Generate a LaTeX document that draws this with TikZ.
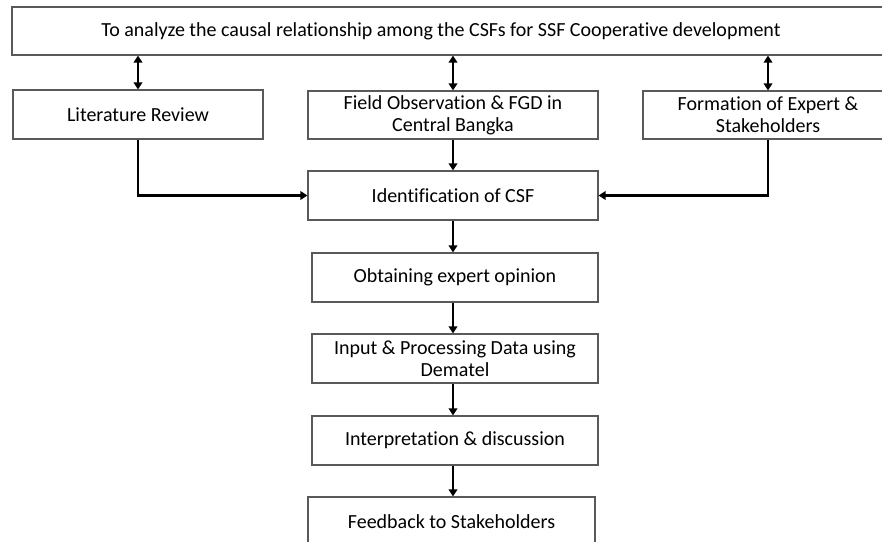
\documentclass[tikz,border=0pt]{standalone}
\usepackage{fontspec}
\setmainfont{Carlito}[Ligatures={NoCommon}]
\usetikzlibrary{arrows.meta}
\begin{document}
\begin{tikzpicture}[x=1pt,y=-1pt,
  txt/.style={font=\fontsize{20}{22}\selectfont},
  box/.style={draw=black!65, line width=1.1pt, fill=white, align=center,
    txt, inner sep=0pt},
  tip/.style={Triangle[width=8.5pt,length=7pt]},
  flow/.style={line width=2.2pt, -{Triangle[width=8.5pt,length=7pt]}},
  both/.style={line width=2.2pt, {Triangle[width=8.5pt,length=7pt]}-{Triangle[width=8.5pt,length=7pt]}}]
\useasboundingbox (0,0) rectangle (882,541);
% goal box, running off the right edge
\node[box, minimum width=880, minimum height=48] (goal) at (452,31) {};
\node[txt, inner sep=0pt] (goaltext) at (441,31)
  {To analyze the causal relationship among the CSFs for SSF Cooperative development};
% input sources
\node[box, minimum width=250, minimum height=49] (lit) at (138,114.5) {Literature Review};
\node[box, minimum width=290, minimum height=48] (field) at (453,115) {Field Observation \& FGD in\\Central Bangka};
\node[box, minimum width=250, minimum height=48] (form) at (768,115) {Formation of Expert \&\\Stakeholders};
% main sequence
\node[box, minimum width=290, minimum height=49] (ident) at (453,195.5) {Identification of CSF};
\node[box, minimum width=286, minimum height=49] (obtain) at (455,277.5) {Obtaining expert opinion};
\node[box, minimum width=286, minimum height=49] (input) at (455,358.5) {Input \& Processing Data using\\Dematel};
\node[box, minimum width=286, minimum height=49] (interp) at (455,440.5) {Interpretation \& discussion};
\node[box, minimum width=287, minimum height=49] (feed) at (451.5,521.5) {Feedback to Stakeholders};
% links to the goal
\draw[both] (goal.south -| lit) -- (lit.north);
\draw[both] (goal.south -| field) -- (field.north);
\draw[both] (goal.south -| form) -- (form.north);
% into identification
\draw[flow] (field.south) -- (ident.north);
\draw[flow] (lit.south) |- (ident.west);
\draw[flow] (form.south) |- (ident.east);
% down the chain
\draw[flow] (ident.south) -- (obtain.north -| ident.south);
\draw[flow] (obtain.south -| ident.south) -- (input.north -| ident.south);
\draw[flow] (input.south -| ident.south) -- (interp.north -| ident.south);
\draw[flow] (interp.south -| ident.south) -- (feed.north -| ident.south);
\end{tikzpicture}
\end{document}
